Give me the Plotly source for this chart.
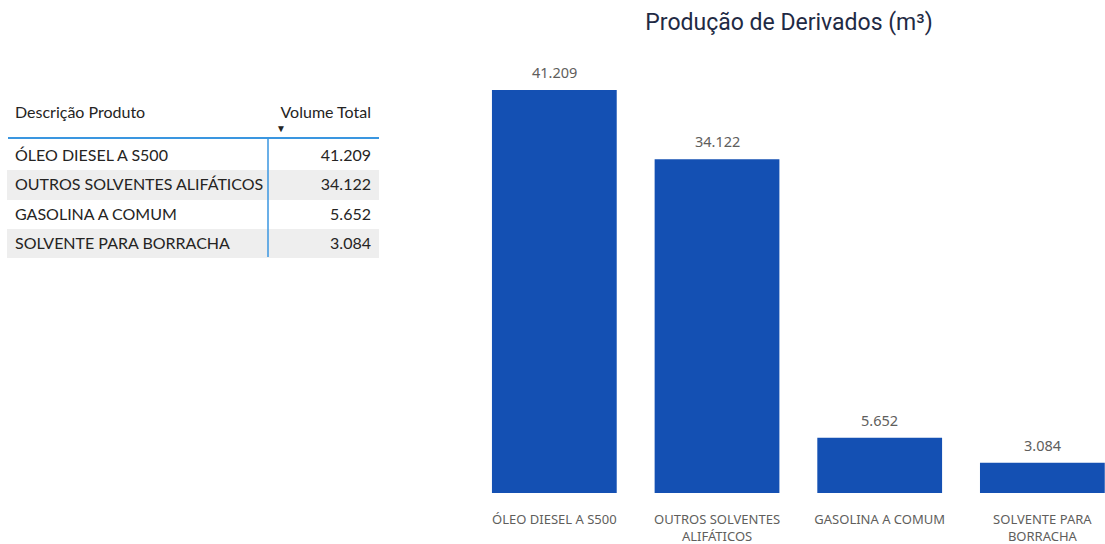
import plotly.graph_objects as go

# Product output volumes (m³)
produtos = ["ÓLEO DIESEL A S500", "OUTROS SOLVENTES ALIFÁTICOS", "GASOLINA A COMUM", "SOLVENTE PARA BORRACHA"]
rotulos_eixo = ["ÓLEO DIESEL A S500", "OUTROS SOLVENTES<br>ALIFÁTICOS", "GASOLINA A COMUM", "SOLVENTE PARA<br>BORRACHA"]
volumes = [41209, 34122, 5652, 3084]
cabecalho = ["Descrição Produto", "Volume Total"]
titulo = "Produção de Derivados (m³)"

W, H = 1105, 544
M_T, M_B = 60, 51


def fmt_br(v):
    return f"{v:,}".replace(",", ".")


def nobreak(s):
    # keep each table entry on a single line
    return s.replace(" ", "\u00a0")


rotulos_valor = [fmt_br(v) for v in volumes]

BAR_BLUE = "#1450B3"
LINE_BLUE = "#3A96E0"
TXT = "#252423"
GREY_TXT = "#605E5C"
ROW_GREY = "#EEEEEE"

fig = go.Figure()

plot_h = H - M_T - M_B

# Summary table on the left
fills = ["#FFFFFF" if i % 2 == 0 else ROW_GREY for i in range(len(produtos))]
tab_x0, tab_x1, sep_x, tab_top = 7, 379, 268, 98
fig.add_trace(go.Table(
    domain=dict(x=[tab_x0 / W, tab_x1 / W], y=[0, (H - M_B - tab_top) / plot_h]),
    columnwidth=[sep_x - tab_x0, tab_x1 - sep_x],
    header=dict(
        values=[nobreak(c) for c in cabecalho],
        align=["left", "right"],
        fill_color="white",
        line=dict(width=0, color="white"),
        font=dict(family="Lato", size=16, color=TXT),
        height=43,
    ),
    cells=dict(
        values=[[nobreak(p) for p in produtos], rotulos_valor],
        align=["left", "right"],
        fill_color=[fills, fills],
        line=dict(width=0, color=[fills, fills]),
        font=dict(family="Lato", size=16, color=TXT),
        height=29.3,
    ),
))

# Bar chart on the right
fig.add_trace(go.Bar(
    x=produtos,
    y=volumes,
    marker=dict(color=BAR_BLUE, line=dict(width=0)),
    width=0.767,
    hoverinfo="skip",
    xaxis="x", yaxis="y",
))

y_max = max(volumes) * plot_h / (H - M_B - 90)

# value labels above the bars
value_annotations = [
    dict(x=p, y=v, xref="x", yref="y", text=t, showarrow=False,
         xanchor="center", yanchor="bottom", yshift=6,
         font=dict(family="Noto Sans", size=14.5, color=GREY_TXT))
    for p, v, t in zip(produtos, volumes, rotulos_valor)
]

fig.update_layout(
    width=W, height=H,
    margin=dict(l=0, r=0, t=M_T, b=M_B),
    paper_bgcolor="white", plot_bgcolor="white",
    showlegend=False,
    title=dict(
        text=titulo,
        x=(473 + 1105) / 2 / W, xanchor="center",
        y=1 - 22 / H, yanchor="middle",
        font=dict(family="Roboto", size=23, color="#1F2A44"),
    ),
    xaxis=dict(
        domain=[473 / W, 1],
        range=[-0.5, 3.385],
        tickmode="array",
        tickvals=produtos,
        ticktext=rotulos_eixo,
        tickfont=dict(family="Noto Sans", size=13, color=GREY_TXT),
        showgrid=False, zeroline=False, showline=False,
        ticks="outside", ticklen=14, tickcolor="rgba(0,0,0,0)",
        automargin=False,
        fixedrange=True,
    ),
    yaxis=dict(
        range=[0, y_max],
        visible=False,
        automargin=False,
        fixedrange=True,
    ),
    shapes=[
        # header underline and column separator
        dict(type="line", xref="paper", yref="paper",
             x0=8 / W, x1=tab_x1 / W,
             y0=(H - M_B - 138) / plot_h, y1=(H - M_B - 138) / plot_h,
             line=dict(color=LINE_BLUE, width=2)),
        dict(type="line", xref="paper", yref="paper",
             x0=sep_x / W, x1=sep_x / W,
             y0=(H - M_B - 257) / plot_h, y1=(H - M_B - 138) / plot_h,
             line=dict(color=LINE_BLUE, width=1.5)),
    ],
    annotations=value_annotations + [
        # sort indicator under the value column header
        dict(text="▼", xref="paper", yref="paper",
             x=281 / W, y=(H - M_B - 128) / plot_h,
             xanchor="center", yanchor="middle", showarrow=False,
             font=dict(size=10, color=TXT)),
    ],
)

fig.write_html("out.html")
